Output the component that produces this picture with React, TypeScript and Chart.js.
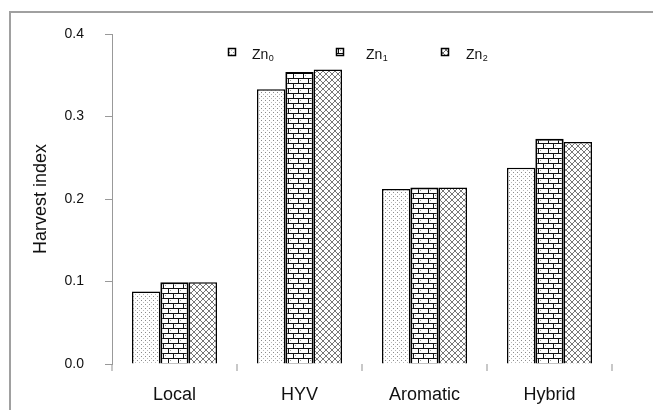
import React, { useEffect, useRef } from "react";
import { Chart, registerables } from "chart.js";

Chart.register(...registerables);

const categories = ["Local", "HYV", "Aromatic", "Hybrid"];
const seriesBase = ["Zn", "Zn", "Zn"];
const seriesSub = ["0", "1", "2"];
const zn0 = [0.088, 0.333, 0.212, 0.238];
const zn1 = [0.099, 0.354, 0.214, 0.273];
const zn2 = [0.099, 0.357, 0.214, 0.269];
const yMin = 0;
const yMax = 0.4;
const yStep = 0.1;
const yTitle = "Harvest index";

const FONT = "'Liberation Sans', Arial, sans-serif";

function makePattern(kind: number): CanvasPattern | string {
  const c = document.createElement("canvas");
  const ctx = c.getContext("2d");
  if (!ctx) return "#fff";
  if (kind === 0) {
    c.width = 4;
    c.height = 4;
    ctx.fillStyle = "#fff";
    ctx.fillRect(0, 0, 4, 4);
    ctx.fillStyle = "#8a8a8a";
    ctx.fillRect(1, 0, 1, 1);
    ctx.fillStyle = "#b8b8b8";
    ctx.fillRect(3, 2, 1, 1);
  } else if (kind === 1) {
    c.width = 10;
    c.height = 10;
    ctx.fillStyle = "#fff";
    ctx.fillRect(0, 0, 10, 10);
    ctx.fillStyle = "#111";
    ctx.fillRect(0, 0, 10, 1);
    ctx.fillRect(0, 5, 10, 1);
    ctx.fillRect(0, 1, 1, 4);
    ctx.fillRect(5, 6, 1, 4);
    ctx.fillStyle = "#999";
    ctx.fillRect(2, 2, 1, 1);
    ctx.fillRect(7, 7, 1, 1);
  } else {
    c.width = 6;
    c.height = 6;
    ctx.fillStyle = "#fff";
    ctx.fillRect(0, 0, 6, 6);
    ctx.fillStyle = "#777";
    for (let i = 0; i < 6; i++) {
      ctx.fillRect(i, i, 1, 1);
      ctx.fillRect(5 - i, i, 1, 1);
    }
  }
  return ctx.createPattern(c, "repeat") || "#fff";
}

const legendPlugin = {
  id: "znLegend",
  afterDraw(chart: any) {
    const ctx = chart.ctx;
    const boxX = [220, 328, 433];
    const textX = [244, 358, 458];
    const boxY = 40;
    const textY = 47;
    ctx.save();
    chart.data.datasets.forEach((ds: any, i: number) => {
      ctx.fillStyle = ds.backgroundColor;
      ctx.fillRect(boxX[i], boxY, 8, 8);
      ctx.strokeStyle = "#000";
      ctx.lineWidth = 1.5;
      ctx.strokeRect(boxX[i] + 0.5, boxY + 0.5, 7, 7);
      ctx.fillStyle = "#111";
      ctx.textBaseline = "middle";
      ctx.textAlign = "left";
      ctx.font = `14px ${FONT}`;
      ctx.fillText(seriesBase[i], textX[i], textY);
      const w = ctx.measureText(seriesBase[i]).width;
      ctx.font = `9px ${FONT}`;
      ctx.fillText(seriesSub[i], textX[i] + w + 0.5, textY + 4);
    });
    ctx.restore();
  },
};

export default function App() {
  const ref = useRef<HTMLCanvasElement | null>(null);

  useEffect(() => {
    if (!ref.current) return;
    const patterns = [makePattern(0), makePattern(1), makePattern(2)];
    const values = [zn0, zn1, zn2];
    const borderWidths = [1.5, 2, 1.5];
    const chart = new Chart(ref.current, {
      type: "bar",
      data: {
        labels: categories,
        datasets: values.map((v, i) => ({
          label: seriesBase[i] + seriesSub[i],
          data: v,
          backgroundColor: patterns[i] as any,
          borderColor: "#000",
          borderWidth: borderWidths[i],
          borderSkipped: "start",
          categoryPercentage: 0.68,
          barPercentage: 1.0,
        })),
      },
      options: {
        animation: false,
        responsive: true,
        maintainAspectRatio: false,
        layout: { padding: { top: 26, right: 41, bottom: 0, left: 0 } },
        plugins: {
          legend: { display: false },
          tooltip: { enabled: false },
        },
        scales: {
          x: {
            grid: {
              display: true,
              drawOnChartArea: false,
              drawTicks: true,
              tickLength: 7,
              color: "#c8c8c8",
              lineWidth: 2,
              offset: true,
            },
            border: { display: false },
            ticks: {
              color: "#111",
              padding: 13,
              font: { family: FONT, size: 18 },
            },
            afterFit: (s: any) => {
              s.height = 46;
            },
          },
          y: {
            min: yMin,
            max: yMax,
            ticks: {
              stepSize: yStep,
              color: "#111",
              padding: 21,
              font: { family: FONT, size: 14 },
              callback: (v: any) => Number(v).toFixed(1),
            },
            grid: {
              display: true,
              drawOnChartArea: false,
              drawTicks: true,
              tickLength: 7,
              color: "#999",
              lineWidth: 1,
            },
            border: { display: true, color: "#999", width: 1 },
            title: {
              display: true,
              text: yTitle,
              color: "#111",
              font: { family: FONT, size: 18 },
              padding: { top: 22, bottom: 0 },
            },
            afterFit: (s: any) => {
              s.width = 104;
              s.paddingTop = 0;
              s.paddingBottom = 0;
            },
          },
        },
      },
      plugins: [legendPlugin],
    });
    return () => chart.destroy();
  }, []);

  return (
    <div style={{ position: "relative", width: 645, height: 402 }}>
      <div
        style={{
          position: "absolute",
          left: 1,
          top: 3,
          right: 0,
          bottom: 0,
          borderLeft: "2px solid #a0a0a0",
          borderTop: "2px solid #a0a0a0",
        }}
      />
      <canvas ref={ref} style={{ position: "absolute", left: 0, top: 0 }} />
    </div>
  );
}
